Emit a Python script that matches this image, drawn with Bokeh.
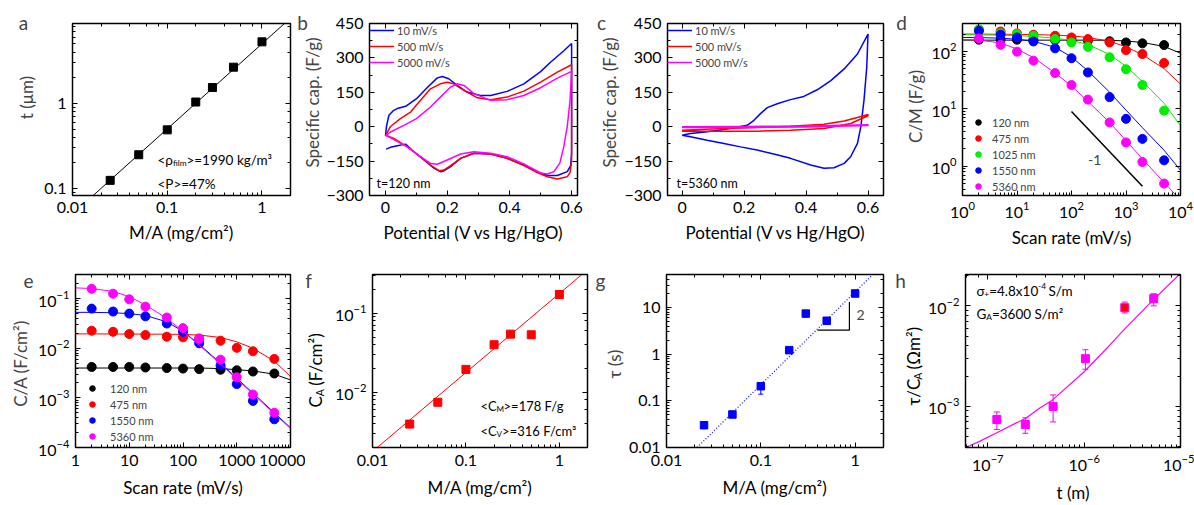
import math
from bokeh.plotting import figure
from bokeh.layouts import column, row
from bokeh.models import (LogAxis, LinearAxis, Label, Legend, LegendItem, FixedTicker,
                          CustomJSTickFormatter, Whisker, TeeHead, ColumnDataSource,
                          SingleIntervalTicker)
from bokeh.embed import file_html
from bokeh.resources import INLINE

FONT = "Lato"
BLUE, RED, GREEN, MAG, BLACK = "#0000FF", "#FF0000", "#00EE00", "#FF00FF", "#000000"

# ---------------- data ----------------
# (a) thickness vs areal mass
ma = [0.025, 0.05, 0.1, 0.2, 0.3, 0.5, 1.0]
a_t = [0.125, 0.25, 0.49, 1.04, 1.54, 2.67, 5.3]
a_fit_x = [0.01, 2.0]
a_fit_y = [0.0503, 10.06]

# (b) CV, t = 120 nm
b10_x = [0.0, 0.003, 0.011, 0.025, 0.038, 0.065, 0.10, 0.134, 0.167, 0.183, 0.204, 0.231, 0.263, 0.306,
         0.339, 0.392, 0.446, 0.5, 0.532, 0.575, 0.6, 0.6, 0.597, 0.586, 0.554, 0.522, 0.489, 0.446,
         0.392, 0.339, 0.285, 0.242, 0.21, 0.188, 0.177, 0.156, 0.124, 0.091, 0.065, 0.038, 0.016, 0.002]
b10_y = [-40, 0, 50, 70, 79, 89, 122, 170, 213, 219, 209, 180, 151, 136, 136, 154, 187, 240, 281, 331,
         363, -110, -170, -196, -213, -213, -196, -167, -138, -119, -116, -138, -174, -193, -196, -181,
         -145, -109, -76, -83, -90, -98]
b500_x = [0.0, 0.016, 0.048, 0.081, 0.113, 0.145, 0.177, 0.199, 0.22, 0.253, 0.296, 0.339, 0.392, 0.446,
          0.5, 0.554, 0.6, 0.6, 0.595, 0.586, 0.554, 0.522, 0.489, 0.446, 0.392, 0.339, 0.285, 0.242,
          0.21, 0.188, 0.172, 0.145, 0.113, 0.07, 0.027, 0.0]
b500_y = [-40, 1, 35, 64, 115, 165, 187, 194, 187, 158, 126, 118, 129, 155, 194, 238, 270, -150, -200,
          -218, -228, -218, -200, -170, -138, -119, -116, -138, -170, -189, -192, -167, -131, -88, -51, -37]
b5000_x = [0.0, 0.016, 0.059, 0.1, 0.145, 0.177, 0.21, 0.231, 0.253, 0.285, 0.339, 0.392, 0.446, 0.5,
           0.554, 0.6, 0.595, 0.586, 0.575, 0.562, 0.543, 0.522, 0.5, 0.446, 0.392, 0.339, 0.285, 0.242,
           0.199, 0.167, 0.145, 0.113, 0.07, 0.027, 0.0]
b5000_y = [-40, -23, 6, 35, 86, 129, 173, 187, 180, 144, 115, 118, 136, 170, 212, 241, 115, 1, -86,
           -159, -196, -206, -202, -162, -131, -116, -109, -119, -145, -164, -160, -131, -88, -56, -37]

# (c) CV, t = 5360 nm
c10_x = [0.0, 0.027, 0.081, 0.135, 0.189, 0.21, 0.232, 0.253, 0.275, 0.307, 0.35, 0.393, 0.436, 0.48,
         0.523, 0.566, 0.6, 0.596, 0.587, 0.577, 0.566, 0.544, 0.523, 0.49, 0.458, 0.415, 0.35, 0.296,
         0.242, 0.189, 0.135, 0.081, 0.027, 0.0]
c10_y = [-37, -30, -22, -12, 1, 6, 28, 57, 83, 100, 118, 132, 161, 201, 252, 317, 404, 259, 115, 1,
         -73, -131, -160, -179, -181, -167, -138, -119, -102, -88, -73, -59, -44, -37]
c500_x = [0.0, 0.135, 0.242, 0.35, 0.458, 0.523, 0.566, 0.6, 0.6, 0.544, 0.458, 0.35, 0.242, 0.135, 0.0]
c500_y = [-15, -8, -4, 2, 11, 25, 40, 53, 48, 14, -8, -15, -20, -20, -20]
c5000_x = [0.0, 0.2, 0.4, 0.6, 0.6, 0.4, 0.2, 0.0]
c5000_y = [0, 1, 3, 8, 5, -1, -3, -3]

cv_labels = ["10 mV/s", "500 mV/s", "5000 mV/s"]

# (d), (e) rate dependence
rates = [2, 5, 10, 20, 50, 100, 200, 500, 1000, 2000, 5000]
fit_rates = [1, 2, 5, 10, 20, 50, 100, 200, 500, 1000, 2000, 5000, 10000]
thick_labels_d = ["120 nm", "475 nm", "1025 nm", "1550 nm", "5360 nm"]
d_120 = [160, 160, 160, 158, 157, 156, 155, 150, 143, 138, 129]
d_475 = [235, 222, 205, 195, 187, 175, 164, 143, 105, 90, 63]
d_1025 = [244, 208, 200, 187, 164, 143, 120, 79, 49, 26, 9.3]
d_1550 = [228, 195, 175, 149, 113, 76, 43, 16, 6.7, 3.0, 1.27]
d_5360 = [168, 130, 99, 69, 42, 26, 14.5, 5.8, 2.6, 1.19, 0.5]
dfit_120 = [157, 157, 157, 157, 157, 157, 157, 157, 156, 152, 143, 122, 93]
dfit_475 = [200, 200, 199, 198, 196, 192, 186, 175, 150, 120, 88, 50, 27]
dfit_1025 = [195, 194, 192, 188, 182, 170, 155, 132, 88, 55, 30, 12.5, 5.1]
dfit_1550 = [175, 174, 170, 163, 150, 118, 80, 46, 19.5, 9.5, 4.7, 1.9, 0.85]
dfit_5360 = [162, 158, 140, 110, 78, 42, 25, 13.5, 5.8, 2.8, 1.35, 0.52, 0.26]
d_slope_x = [100, 2000]
d_slope_y = [9.0, 0.45]

thick_labels_e = ["120 nm", "475 nm", "1550 nm", "5360 nm"]
e_120 = [0.0042, 0.0042, 0.0042, 0.0041, 0.0040, 0.0039, 0.0038, 0.0037, 0.0036, 0.0034, 0.0031]
e_475 = [0.0226, 0.0215, 0.0194, 0.0185, 0.0171, 0.0166, 0.0158, 0.0142, 0.0102, 0.0087, 0.0061]
e_1550 = [0.063, 0.055, 0.050, 0.044, 0.0316, 0.0215, 0.0126, 0.0045, 0.0019, 0.00087, 0.00037]
e_5360 = [0.158, 0.126, 0.097, 0.069, 0.0417, 0.0255, 0.0154, 0.0059, 0.0026, 0.00117, 0.0005]
efit_120 = [0.0040, 0.0040, 0.0040, 0.0040, 0.0040, 0.0040, 0.0040, 0.0040, 0.0039, 0.0037, 0.0035, 0.0030, 0.0023]
efit_475 = [0.0195, 0.0195, 0.0194, 0.0194, 0.0193, 0.0192, 0.0190, 0.0185, 0.0165, 0.0135, 0.0100, 0.0055, 0.0027]
efit_1550 = [0.053, 0.053, 0.052, 0.050, 0.046, 0.034, 0.022, 0.012, 0.0050, 0.0025, 0.00125, 0.0005, 0.00025]
efit_5360 = [0.165, 0.160, 0.140, 0.110, 0.075, 0.040, 0.022, 0.0115, 0.0048, 0.0024, 0.0012, 0.00048, 0.00024]

# (f) areal capacitance
f_ca = [0.00396, 0.00748, 0.0195, 0.040, 0.0545, 0.0535, 0.173]
f_fit_x = [0.01, 2.0]
f_fit_y = [0.00178, 0.356]

# (g) time constant
g_tau = [0.030, 0.051, 0.206, 1.22, 7.4, 5.2, 20.0]
g_lo = [0.027, 0.047, 0.139, 1.05, 7.0, 4.9, 19.0]
g_hi = [0.033, 0.055, 0.24, 1.35, 7.8, 5.5, 21.0]
g_fit_x = [0.0211, 1.54]
g_fit_y = [0.01, 51.0]
g_tri_x = [0.40, 0.87, 0.87]
g_tri_y = [3.27, 3.27, 13.2]

# (h) tau / C_A vs thickness
h_t = [1.24e-7, 2.45e-7, 4.76e-7, 1.03e-6, 2.64e-6, 5.27e-6]
h_v = [7.4e-4, 6.6e-4, 1.0e-3, 2.98e-3, 9.6e-3, 1.18e-2]
h_lo = [5.9e-4, 5.4e-4, 7.0e-4, 2.34e-3, 8.5e-3, 1.0e-2]
h_hi = [8.8e-4, 7.7e-4, 1.30e-3, 3.66e-3, 1.09e-2, 1.32e-2]
h_red_t = [2.64e-6]
h_red_v = [9.6e-3]
h_fit_x = [5.86e-8, 7.7e-8, 1.24e-7, 2.5e-7, 3.43e-7, 4.7e-7, 1.0e-6, 1.77e-6, 2.64e-6, 5.27e-6, 1.0e-5]
h_fit_y = [3.9e-4, 4.36e-4, 5.47e-4, 7.68e-4, 9.6e-4, 1.16e-3, 2.21e-3, 3.9e-3, 5.9e-3, 1.16e-2, 2.1e-2]
h_yticks = [1e-3, 1e-2]

# ---------------- helpers ----------------
EM = {' ': 0.193, '.': 0.23, ',': 0.23, '<': 0.58, '>': 0.58, '=': 0.58, '+': 0.58, '-': 0.36,
      '(': 0.30, ')': 0.30, '/': 0.37, '%': 0.78, 'C': 0.66, 'A': 0.68, 'M': 0.86, 'V': 0.68,
      'G': 0.72, 'F': 0.55, 'P': 0.60, 'S': 0.52, 'a': 0.49, 'c': 0.46, 'f': 0.32, 'g': 0.50,
      'i': 0.23, 'k': 0.50, 'l': 0.23, 'm': 0.84, 'n': 0.55, 's': 0.41, 'x': 0.49, 'ρ': 0.56,
      'σ': 0.58, 'τ': 0.48, 'Ω': 0.74, '²': 0.37, '³': 0.37}
for dch in "0123456789":
    EM[dch] = 0.58


def tw(s, fs):
    return sum(EM.get(ch, 0.55) for ch in s) * fs


def rich(p, x, y, parts, fs, rot=False, color="black", units="screen"):
    pos = 0.0
    for txt, kind in parts:
        f = fs if kind == "n" else fs * 0.62
        off = 0.0 if kind == "n" else (-0.28 * fs if kind == "b" else 0.30 * fs)
        while txt.startswith(" "):
            pos += tw(" ", f)
            txt = txt[1:]
        if rot:
            lx, ly, ang = x - off, y + pos, math.pi / 2
        else:
            lx, ly, ang = x + pos, y + off, 0.0
        p.add_layout(Label(x=lx, y=ly, x_units=units, y_units=units, text=txt,
                           text_font=FONT, text_font_size=f"{f:.1f}px", text_color=color,
                           text_align="left", text_baseline="middle", angle=ang))
        pos += tw(txt, f)


def strip(w, h):
    s = figure(frame_width=w, frame_height=h, x_range=(0, w), y_range=(0, h), min_border=0,
               x_axis_location=None, y_axis_location=None,
               output_backend="svg", toolbar_location=None)
    if "frame_align" in s.properties():
        s.frame_align = False
    s.title.visible = False
    s.min_border_left = 0
    s.min_border_right = 0
    s.min_border_top = 0
    s.min_border_bottom = 0
    s.grid.visible = False
    s.outline_line_color = None
    s.background_fill_color = "white"
    s.border_fill_color = "white"
    return s


def letter(s, ch, x, y):
    s.add_layout(Label(x=x, y=y, text=ch, text_font=FONT,
                       text_font_size="19px", text_align="center", text_baseline="middle"))


def ylab(s, text, x, y):
    s.add_layout(Label(x=x, y=y, text=text, text_font=FONT,
                       text_font_size="17px", text_align="center", text_baseline="middle",
                       angle=math.pi / 2))


def style(ax):
    ax.major_tick_in = 5
    ax.major_tick_out = 0
    ax.minor_tick_in = 3
    ax.minor_tick_out = 0
    ax.axis_line_color = "black"
    ax.axis_line_width = 1.2
    ax.major_tick_line_color = "black"
    ax.minor_tick_line_color = "black"
    ax.major_label_text_font = FONT
    ax.major_label_text_font_size = "16px"
    ax.major_label_text_color = "black"
    ax.major_label_standoff = 6
    ax.axis_label_text_font = FONT
    ax.axis_label_text_font_size = "17px"
    ax.axis_label_text_font_style = "normal"
    ax.axis_label_text_color = "black"
    ax.axis_label_standoff = 6


PLAIN_CODE = "return String(Number(tick.toPrecision(4)));"
BLANK_CODE = "return '';"


def make(xr, yr, xlog, ylog, bl, fw, br, bt, fh, bb, xlabel, xt=None, yt=None, row2=False):
    p = figure(width=bl + fw + br, height=bt + fh + bb, x_range=xr, y_range=yr,
               x_axis_type="log" if xlog else "linear", y_axis_type="log" if ylog else "linear",
               min_border_left=bl, min_border_right=br, min_border_top=bt, min_border_bottom=bb,
               output_backend="svg", toolbar_location=None)
    p.title.visible = False
    p.xgrid.visible = False
    p.ygrid.visible = False
    p.outline_line_color = "black"
    p.outline_line_width = 1.3
    p.background_fill_color = "white"
    p.border_fill_color = "white"
    if xt is not None:
        p.below[0].ticker = xt
    if yt is not None:
        p.left[0].ticker = yt
    top = LogAxis(ticker=xt) if (xlog and xt is not None) else (LogAxis() if xlog else LinearAxis(ticker=xt))
    right = LogAxis(ticker=yt) if (ylog and yt is not None) else (LogAxis() if ylog else LinearAxis(ticker=yt))
    p.add_layout(top, "above")
    p.add_layout(right, "right")
    for ax in (p.below[0], p.left[0], top, right):
        style(ax)
    for ax in (top, right):
        ax.formatter = CustomJSTickFormatter(code=BLANK_CODE)
        ax.major_label_text_font_size = "1px"
        ax.major_label_standoff = 0
    p.below[0].axis_label = xlabel
    if row2:
        p.below[0].major_label_standoff = 7
        p.below[0].axis_label_standoff = 8
    return p


def cv_legend(p, rends):
    leg = Legend(items=[LegendItem(label=l, renderers=[r]) for l, r in zip(cv_labels, rends)],
                 location="top_left", margin=0, padding=5, spacing=2, glyph_width=25,
                 glyph_height=14, label_height=14, label_standoff=3,
                 label_text_font=FONT, label_text_font_size="11px",
                 border_line_color=None, background_fill_alpha=0)
    p.add_layout(leg)


def dot_legend(p, labels, rends, loc, standoff):
    leg = Legend(items=[LegendItem(label=l, renderers=[r]) for l, r in zip(labels, rends)],
                 location=loc, margin=0, padding=1, spacing=2, glyph_width=20,
                 glyph_height=14, label_height=14, label_standoff=standoff,
                 label_text_font=FONT, label_text_font_size="11px",
                 border_line_color=None, background_fill_alpha=0)
    p.add_layout(leg)


H1, H2 = 250, 255

# ---------------- (a) ----------------
sa = strip(40, H1)
letter(sa, "a", 23, 228)
ylab(sa, "t (μm)", 26, 153)
pa = make((0.01, 2.0), (0.083, 8.7), True, True, 32, 218, 7, 23, 172, 55, "M/A (mg/cm²)")
pa.below[0].formatter = CustomJSTickFormatter(code=PLAIN_CODE)
pa.left[0].formatter = CustomJSTickFormatter(code=PLAIN_CODE)
pa.line(a_fit_x, a_fit_y, line_color="black", line_width=1)
pa.scatter(ma, a_t, marker="square", size=8, color="black")
rich(pa, 85, 36, [("<ρ", "n"), ("film", "b"), (">=1990 kg/m³", "n")], 13.5)
rich(pa, 85, 12, [("<P>=47%", "n")], 13.5)

# ---------------- (b) ----------------
sb = strip(26, H1)
letter(sb, "b", 5, 228)
ylab(sb, "Specific cap. (F/g)", 15, 148)
xt_cv = SingleIntervalTicker(interval=0.2, num_minor_ticks=2)
yt_cv = SingleIntervalTicker(interval=150, num_minor_ticks=2)
pb = make((-0.0516, 0.619), (-300, 450), False, False, 46, 208, 17, 23, 173, 54,
          "Potential (V vs Hg/HgO)", xt_cv, yt_cv)
r1 = pb.line(b10_x, b10_y, line_color=BLUE, line_width=1.5)
r2 = pb.line(b500_x, b500_y, line_color=RED, line_width=1.5)
r3 = pb.line(b5000_x, b5000_y, line_color=MAG, line_width=1.5)
cv_legend(pb, [r1, r2, r3])
rich(pb, 7, 12, [("t=120 nm", "n")], 12.5)

# ---------------- (c) ----------------
sc = strip(26, H1)
letter(sc, "c", 7, 228)
ylab(sc, "Specific cap. (F/g)", 15, 148)
xt_cv2 = SingleIntervalTicker(interval=0.2, num_minor_ticks=2)
yt_cv2 = SingleIntervalTicker(interval=150, num_minor_ticks=2)
pc = make((-0.047, 0.65), (-300, 450), False, False, 47, 216, 9, 23, 172, 55,
          "Potential (V vs Hg/HgO)", xt_cv2, yt_cv2)
s1 = pc.line(c10_x, c10_y, line_color=BLUE, line_width=1.5)
s2 = pc.line(c500_x, c500_y, line_color=RED, line_width=1.5)
s3 = pc.line(c5000_x, c5000_y, line_color=MAG, line_width=1.5)
cv_legend(pc, [s1, s2, s3])
rich(pc, 9, 12, [("t=5360 nm", "n")], 12.5)

# ---------------- (d) ----------------
sd = strip(36, H1)
letter(sd, "d", 9, 228)
ylab(sd, "C/M (F/g)", 23, 144)
pd_ = make((1, 1e4), (0.31, 306), True, True, 34, 218, 14, 23, 172, 55, "Scan rate (mV/s)")
drs = []
for vals, fit, col in [(d_120, dfit_120, BLACK), (d_475, dfit_475, RED), (d_1025, dfit_1025, GREEN),
                       (d_1550, dfit_1550, BLUE), (d_5360, dfit_5360, MAG)]:
    pd_.line(fit_rates, fit, line_color=col, line_width=1)
    drs.append(pd_.scatter(rates, vals, marker="circle", size=9, color=col))
pd_.line(d_slope_x, d_slope_y, line_color="black", line_width=1.5)
pd_.add_layout(Label(x=266, y=1.27, text="-1", text_font=FONT, text_font_size="14px",
                     text_align="center", text_baseline="middle"))
dot_legend(pd_, thick_labels_d, drs, (6, 2), 4)

# ---------------- (e) ----------------
se = strip(34, H2)
letter(se, "e", 28, 225)
ylab(se, "C/A (F/cm²)", 20, 142)
pe = make((1, 1e4), (1e-4, 0.307), True, True, 38, 218, 15, 24, 173, 58, "Scan rate (mV/s)", row2=True)
pe.below[0].formatter = CustomJSTickFormatter(code=PLAIN_CODE)
ers = []
for vals, fit, col in [(e_120, efit_120, BLACK), (e_475, efit_475, RED),
                       (e_1550, efit_1550, BLUE), (e_5360, efit_5360, MAG)]:
    pe.line(fit_rates, fit, line_color=col, line_width=1)
    ers.append(pe.scatter(rates, vals, marker="circle", size=9, color=col))
dot_legend(pe, thick_labels_e, ers, (7, 4), 8)

# ---------------- (f) ----------------
sf = strip(26, H2)
letter(sf, "f", 3, 225)
rich(sf, 10, 98, [("C", "n"), ("A", "b"), (" (F/cm²)", "n")], 17, rot=True, units="data")
pf = make((0.01, 2.0), (0.002, 0.31), True, True, 38, 218, 7, 24, 173, 58, "M/A (mg/cm²)", row2=True)
pf.below[0].formatter = CustomJSTickFormatter(code=PLAIN_CODE)
pf.line(f_fit_x, f_fit_y, line_color=RED, line_width=1)
pf.scatter(ma, f_ca, marker="square", size=8, color=RED)
rich(pf, 108, 42, [("<C", "n"), ("M", "b"), (">=178 F/g", "n")], 13)
rich(pf, 108, 17, [("<C", "n"), ("V", "b"), (">=316 F/cm³", "n")], 13)

# ---------------- (g) ----------------
sg = strip(30, H2)
letter(sg, "g", 6, 225)
ylab(sg, "τ (s)", 20, 141)
pg = make((0.01, 2.0), (0.01, 51), True, True, 42, 217, 9, 24, 173, 58, "M/A (mg/cm²)", row2=True)
pg.below[0].formatter = CustomJSTickFormatter(code=PLAIN_CODE)
pg.left[0].formatter = CustomJSTickFormatter(code=PLAIN_CODE)
pg.line(g_fit_x, g_fit_y, line_color=BLUE, line_width=1.2, line_dash="1 2")
gsrc = ColumnDataSource(dict(x=ma, lo=g_lo, hi=g_hi))
pg.add_layout(Whisker(base="x", lower="lo", upper="hi", source=gsrc, line_color=BLUE,
                      upper_head=TeeHead(size=5, line_color=BLUE),
                      lower_head=TeeHead(size=5, line_color=BLUE)))
pg.scatter(ma, g_tau, marker="square", size=7.5, color=BLUE)
pg.line(g_tri_x, g_tri_y, line_color="black", line_width=1.2)
pg.add_layout(Label(x=1.14, y=6.8, text="2", text_font=FONT, text_font_size="14px",
                    text_align="center", text_baseline="middle"))

# ---------------- (h) ----------------
sh = strip(32, H2)
letter(sh, "h", 8, 225)
rich(sh, 21, 100, [("τ/C", "n"), ("A", "b"), (" (Ωm²)", "n")], 17, rot=True, units="data")
h_minor = [k * 10.0 ** e for e in (-4, -3, -2) for k in range(2, 10)]
hyt = FixedTicker(ticks=h_yticks, minor_ticks=h_minor)
ph = make((5.86e-8, 1e-5), (3.9e-4, 0.0205), True, True, 38, 218, 14, 24, 173, 58, "t (m)",
          yt=hyt, row2=True)
ph.line(h_fit_x, h_fit_y, line_color=MAG, line_width=1.2)
hsrc = ColumnDataSource(dict(x=h_t, lo=h_lo, hi=h_hi))
ph.add_layout(Whisker(base="x", lower="lo", upper="hi", source=hsrc, line_color=MAG,
                      upper_head=TeeHead(size=6, line_color=MAG),
                      lower_head=TeeHead(size=6, line_color=MAG)))
ph.scatter(h_t, h_v, marker="square", size=8, color=MAG)
ph.scatter(h_red_t, h_red_v, marker="square", size=6, color=RED)
rich(ph, 11, 157, [("σ", "n"), ("+", "b"), ("=4.8x10", "n"), ("-4", "p"), (" S/m", "n")], 13.5)
rich(ph, 11, 134, [("G", "n"), ("A", "b"), ("=3600 S/m²", "n")], 13.5)

layout = column(row(sa, pa, sb, pb, sc, pc, sd, pd_),
                row(se, pe, sf, pf, sg, pg, sh, ph))
open("out.html", "w").write(file_html(layout, INLINE))
